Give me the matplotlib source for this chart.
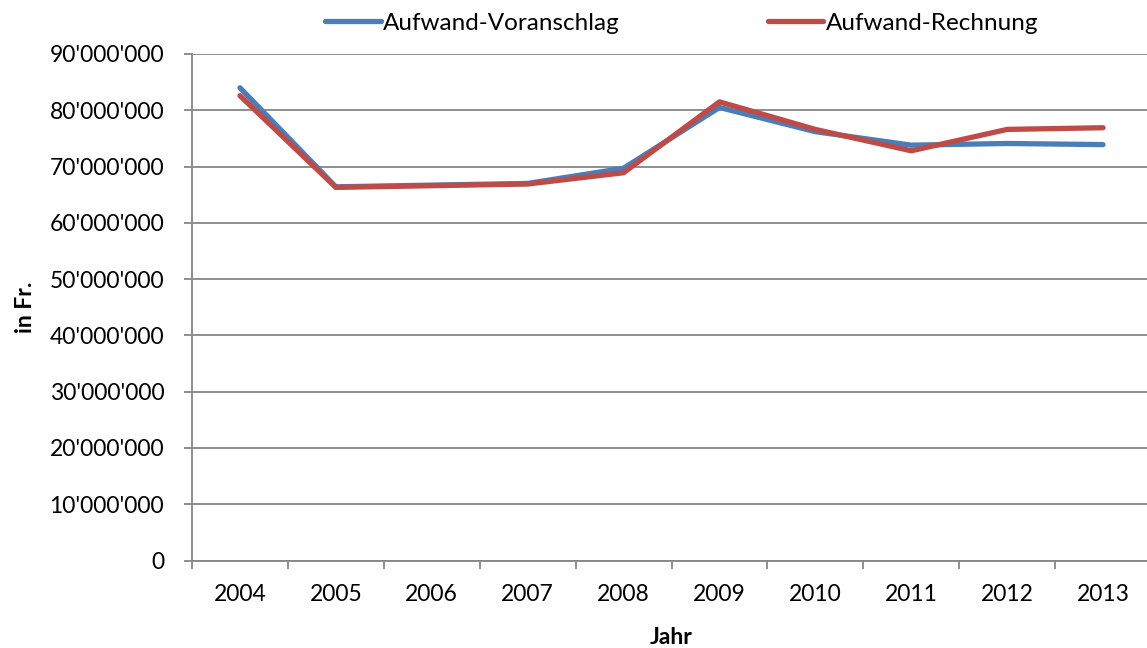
import matplotlib
matplotlib.use("Agg")
import matplotlib.pyplot as plt
from matplotlib.ticker import FuncFormatter, FixedLocator

years = ["2004", "2005", "2006", "2007", "2008", "2009", "2010", "2011", "2012", "2013"]
voranschlag = [84.0e6, 66.4e6, 66.7e6, 67.0e6, 69.7e6, 80.5e6, 76.2e6, 73.8e6, 74.1e6, 73.9e6]
rechnung = [82.6e6, 66.3e6, 66.6e6, 66.9e6, 68.9e6, 81.5e6, 76.6e6, 72.8e6, 76.6e6, 76.9e6]

plt.rcParams["font.family"] = ["Lato", "DejaVu Sans"]
FS = 16.5

fig = plt.figure(figsize=(11.47, 6.48), dpi=100)
ax = fig.add_axes([192 / 1147, 1 - 560.5 / 648, 959 / 1147, (560.5 - 54) / 648])

grid_col = "#868686"
x = list(range(len(years)))
ax.plot(x, voranschlag, color="#4A7EBB", lw=3.8, solid_capstyle="round", label="Aufwand-Voranschlag", zorder=3)
ax.plot(x, rechnung, color="#BE4B48", lw=3.8, solid_capstyle="round", label="Aufwand-Rechnung", zorder=4)

ax.set_xlim(-0.5, len(years) - 0.5)
ax.set_ylim(0, 90e6)
ax.set_yticks([i * 10e6 for i in range(10)])
ax.yaxis.set_major_formatter(FuncFormatter(lambda v, p: f"{int(round(v)):,}".replace(",", "'")))
ax.yaxis.grid(True, color=grid_col, lw=1.3)
ax.set_axisbelow(True)

ax.set_xticks(x)
ax.set_xticklabels(years)
ax.xaxis.set_minor_locator(FixedLocator([i - 0.5 for i in range(len(years) + 1)]))
ax.tick_params(axis="x", which="major", length=0, pad=17, labelsize=FS)
ax.tick_params(axis="x", which="minor", length=6, color=grid_col, width=1.3)
ax.tick_params(axis="y", length=6, color=grid_col, width=1.3, labelsize=FS, pad=14)

for s in ["top", "right"]:
    ax.spines[s].set_visible(False)
for s in ["left", "bottom"]:
    ax.spines[s].set_color(grid_col)
    ax.spines[s].set_linewidth(1.3)

ax.set_ylabel("in Fr.", fontsize=FS, fontweight="bold", labelpad=10)
ax.set_xlabel("Jahr", fontsize=FS, fontweight="bold", labelpad=16)

fig.legend(loc="upper center", bbox_to_anchor=(0.594, 1.014), ncol=2, frameon=False,
           fontsize=17.5, handlelength=2.3, handletextpad=0.08, columnspacing=6.1)

fig.savefig("out.png", dpi=100)
